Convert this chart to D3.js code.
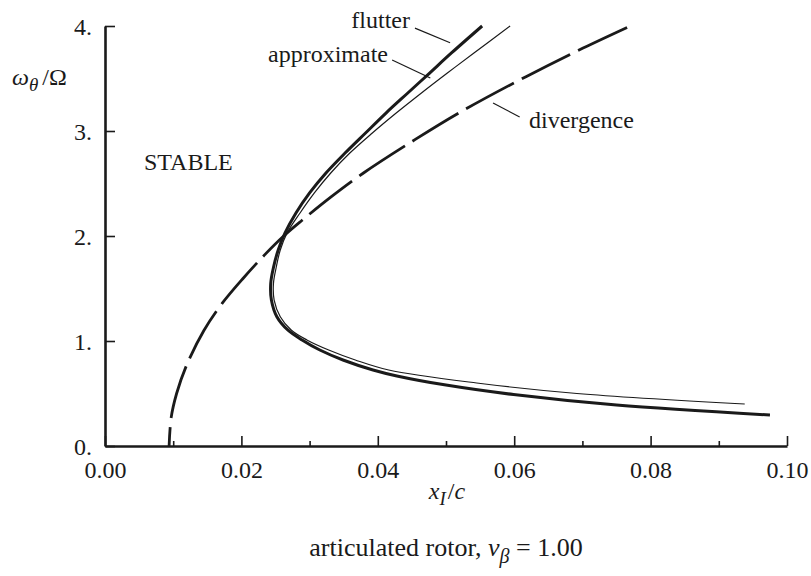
<!DOCTYPE html>
<html>
<head>
<meta charset="utf-8">
<script src="https://cdn.jsdelivr.net/npm/d3@7"></script>
<style>
  html, body { margin: 0; padding: 0; background: #fff; }
  svg { display: block; }
  text { font-family: "Liberation Serif", "Times New Roman", serif; fill: #1a1a1a; }
</style>
</head>
<body>
<svg id="chart" width="811" height="576"></svg>
<script>
// ---- data ----
const xMajorTicks = [0.00, 0.02, 0.04, 0.06, 0.08, 0.10];
const xMinorTicks = [0.01, 0.03, 0.05, 0.07, 0.09];
const yTicks = [0, 1, 2, 3, 4];

// flutter boundary (thick solid)
const flutterY = [4.0, 3.743, 3.552, 3.362, 3.171, 2.981, 2.790, 2.600, 2.410, 2.219, 2.029, 1.867, 1.70, 1.549, 1.39, 1.231, 1.105, 1.01, 0.914, 0.819, 0.724, 0.667, 0.58, 0.49, 0.39, 0.295];
const flutterX = [0.0553, 0.0508, 0.0476, 0.0444, 0.0412, 0.0382, 0.0352, 0.0324, 0.0300, 0.0280, 0.0264, 0.0254, 0.0247, 0.0243, 0.0244, 0.0252, 0.0268, 0.0289, 0.0315, 0.0349, 0.0393, 0.0428, 0.0500, 0.0599, 0.0750, 0.0975];

// approximate boundary (thin solid)
const approxY = [4.0, 3.743, 3.552, 3.362, 3.171, 2.981, 2.790, 2.600, 2.410, 2.219, 2.029, 1.867, 1.70, 1.549, 1.39, 1.231, 1.105, 1.01, 0.914, 0.819, 0.724, 0.60, 0.50, 0.40];
const approxX = [0.0594, 0.0541, 0.0502, 0.0464, 0.0427, 0.0392, 0.0359, 0.0331, 0.0307, 0.0286, 0.0267, 0.0257, 0.0251, 0.0247, 0.0248, 0.0257, 0.0273, 0.0296, 0.0328, 0.0367, 0.0416, 0.0545, 0.0692, 0.0938];

// divergence boundary (dashed)
const divY = [0, 0.27, 0.5, 0.76, 1.1, 1.36, 1.6, 1.82, 2.0, 2.15, 2.37, 2.60, 2.92, 3.18, 3.52, 3.79, 4.0];
const divX = [0.0094, 0.0097, 0.0105, 0.0119, 0.0145, 0.0172, 0.0203, 0.0234, 0.0262, 0.0289, 0.0331, 0.0379, 0.0455, 0.0521, 0.0618, 0.0701, 0.0770];

// annotation labels with leader lines [x1,y1,x2,y2] in data units
const labelNames = ["flutter", "approximate", "divergence"];
const leaderLines = [
  [0.04545, 3.98, 0.0506, 3.84],
  [0.0421, 3.676, 0.0477, 3.505],
  [0.0569, 3.267, 0.0608, 3.133]
];

// ---- layout ----
const svg = d3.select("#chart");
const W = 811, H = 576;
const mLeft = 105, mRight = 787, mTop = 26, mBottom = 446;

svg.append("rect").attr("width", W).attr("height", H).attr("fill", "#fff");

const x = d3.scaleLinear().domain([0, 0.10]).range([mLeft, mRight]);
const y = d3.scaleLinear().domain([0, 4]).range([mBottom, mTop]);

const ink = "#1a1a1a";

// x axis
const gx = svg.append("g").attr("transform", `translate(0,${mBottom})`);
gx.call(d3.axisBottom(x).tickValues(xMajorTicks).tickSize(-10).tickSizeOuter(0).tickPadding(15)
  .tickFormat(d3.format(".2f")));
gx.append("g").call(d3.axisBottom(x).tickValues(xMinorTicks).tickSize(-5).tickFormat(""))
  .select(".domain").remove();

// y axis
const gy = svg.append("g").attr("transform", `translate(${mLeft},0)`);
gy.call(d3.axisLeft(y).tickValues(yTicks).tickSize(-10).tickSizeOuter(0).tickPadding(13)
  .tickFormat(d => d + "."));

svg.selectAll(".domain").attr("stroke", ink).attr("stroke-width", 2.6);
svg.selectAll(".tick line").attr("stroke", ink).attr("stroke-width", 1.6);
svg.selectAll(".tick text").attr("font-size", 24).attr("font-family", "Liberation Serif").attr("fill", ink);
gy.selectAll(".tick text").attr("dy", "0.36em");

// curves
const line = d3.line().x(d => x(d[0])).y(d => y(d[1])).curve(d3.curveCatmullRom.alpha(0.5));
const flutter = flutterX.map((v, i) => [v, flutterY[i]]);
const approx = approxX.map((v, i) => [v, approxY[i]]);
const div = divX.map((v, i) => [v, divY[i]]);

svg.append("path").datum(div).attr("d", line).attr("fill", "none")
  .attr("stroke", ink).attr("stroke-width", 2.8)
  .attr("stroke-dasharray", "54,9").attr("stroke-dashoffset", 35);

svg.append("path").datum(approx).attr("d", line).attr("fill", "none")
  .attr("stroke", ink).attr("stroke-width", 1.2);

svg.append("path").datum(flutter).attr("d", line).attr("fill", "none")
  .attr("stroke", ink).attr("stroke-width", 3.0);

// leader lines
svg.selectAll(".leader").data(leaderLines).enter().append("line")
  .attr("x1", d => x(d[0])).attr("y1", d => y(d[1]))
  .attr("x2", d => x(d[2])).attr("y2", d => y(d[3]))
  .attr("stroke", ink).attr("stroke-width", 1.2);

// annotation labels
const fs = 24;
svg.append("text").attr("x", 410).attr("y", 28).attr("text-anchor", "end").attr("font-size", fs).text(labelNames[0]);
svg.append("text").attr("x", 388).attr("y", 62).attr("text-anchor", "end").attr("font-size", fs).text(labelNames[1]);
svg.append("text").attr("x", 529).attr("y", 128).attr("text-anchor", "start").attr("font-size", fs).text(labelNames[2]);
svg.append("text").attr("x", 144).attr("y", 170).attr("font-size", fs).text("STABLE");

// y axis title
const yt = svg.append("text").attr("x", 12).attr("y", 85).attr("font-size", fs);
yt.append("tspan").attr("font-style", "italic").text("ω");
yt.append("tspan").attr("font-style", "italic").attr("font-size", 19).attr("dy", 6).text("θ");
yt.append("tspan").attr("dy", -6).attr("dx", 4).text("/Ω");

// x axis title
const xt = svg.append("text").attr("x", 447).attr("y", 499).attr("text-anchor", "middle").attr("font-size", fs);
xt.append("tspan").attr("font-style", "italic").text("x");
xt.append("tspan").attr("font-style", "italic").attr("font-size", 19).attr("dy", 6).text("I");
xt.append("tspan").attr("dy", -6).attr("dx", 2).text("/");
xt.append("tspan").attr("font-style", "italic").text("c");

// caption
const cap = svg.append("text").attr("x", 446).attr("y", 556).attr("text-anchor", "middle").attr("font-size", 26);
cap.append("tspan").text("articulated rotor, ");
cap.append("tspan").attr("font-style", "italic").text("ν");
cap.append("tspan").attr("font-style", "italic").attr("font-size", 20).attr("dy", 7).text("β");
cap.append("tspan").attr("dy", -7).text(" = 1.00");
</script>
</body>
</html>
